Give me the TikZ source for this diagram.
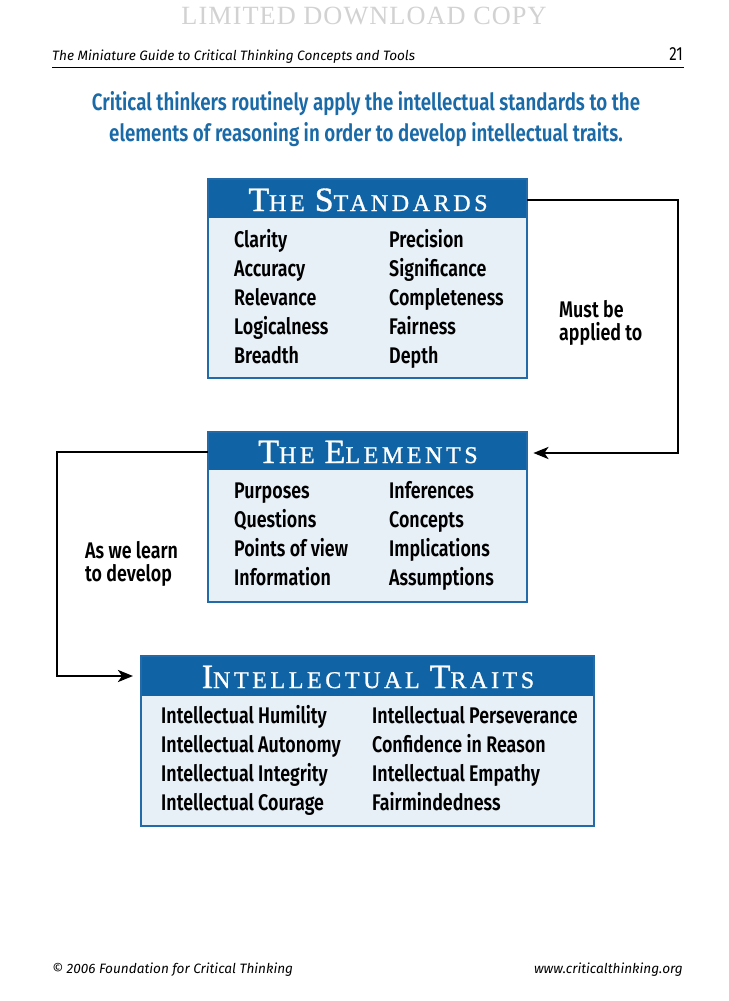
\documentclass[tikz,border=0pt]{standalone}
\usepackage{fontspec}
\setmainfont{Fira Sans}
\newfontfamily\cond{Fira Sans}[FakeStretch=0.79, BoldFont={Fira Sans SemiBold}]
\newfontfamily\plainsans{Fira Sans}
\newfontfamily\titlefont{Liberation Serif}[LetterSpace=15, FakeBold=1]
\newfontfamily\wmfont{Liberation Serif}[LetterSpace=4]
\usetikzlibrary{arrows.meta,calc}
\definecolor{bandblue}{RGB}{16,100,165}
\definecolor{edgeblue}{RGB}{34,106,168}
\definecolor{bodyfill}{RGB}{231,239,247}
\definecolor{subblue}{RGB}{27,106,168}
\newcommand\Tbig[1]{{\fontsize{34}{34}\selectfont #1}}
\newcommand\Tsm[1]{{\fontsize{24}{24}\selectfont #1}}
\newcommand\Tgap{\hspace*{10pt}}
\begin{document}
\begin{tikzpicture}[x=1pt,y=-1pt,
  item/.style={anchor=base west, inner sep=0pt, font=\cond\bfseries\fontsize{22.6}{22.6}\selectfont},
  lbl/.style={anchor=base west, inner sep=0pt, font=\cond\bfseries\fontsize{22.6}{22.6}\selectfont},
  hdr/.style={anchor=base, inner sep=0pt, text=white, font=\titlefont},
  boxbody/.style={rectangle, fill=bodyfill, inner sep=0pt, anchor=north west},
  conn/.style={line width=2.5pt, black},
  arr/.style={conn, -{Stealth[length=15pt,width=12pt,inset=4pt]}},
  small/.style={inner sep=0pt, font=\plainsans\itshape\fontsize{13.6}{13.6}\selectfont}
]
\useasboundingbox (0,0) rectangle (728,1001);
\fill[white] (0,0) rectangle (728,1001);

% watermark and page header
\node[anchor=base, inner sep=0pt, text=gray!35, font=\wmfont\fontsize{26.3}{26.3}\selectfont] (wm) at (364,24) {LIMITED DOWNLOAD COPY};
\node[small, anchor=base west] (guide) at (52,60) {The Miniature Guide to Critical Thinking Concepts and Tools};
\node[inner sep=0pt, anchor=base east, font=\cond\fontsize{19}{19}\selectfont] (pg) at (683,60) {21};
\draw[line width=1pt] (52,67) -- (684,67);

% subtitle
\node[anchor=base, inner sep=0pt, text=subblue, font=\cond\bfseries\fontsize{23.7}{23.7}\selectfont] (sub1) at (366,110) {Critical thinkers routinely apply the intellectual standards to the};
\node[anchor=base, inner sep=0pt, text=subblue, font=\cond\bfseries\fontsize{23.7}{23.7}\selectfont] (sub2) at (366,141) {elements of reasoning in order to develop intellectual traits.};

% Standards box
\node[boxbody, minimum width=319pt, minimum height=199pt] (std) at (208,179) {};
\fill[bandblue] (std.north west) rectangle ([yshift=-39pt]std.north east);
\draw[edgeblue, line width=2pt] (std.north west) rectangle (std.south east);
\node[hdr] (stdT) at (368,211) {\Tbig{T}\Tsm{HE}\Tgap\Tbig{S}\Tsm{TANDARDS}};
\node[item] (s1) at (234,247) {Clarity};
\node[item] (s2) at (234,276) {Accuracy};
\node[item] (s3) at (234,305) {Relevance};
\node[item] (s4) at (234,334) {Logicalness};
\node[item] (s5) at (234,363) {Breadth};
\node[item] (s6) at (389,247) {Precision};
\node[item] (s7) at (389,276) {Significance};
\node[item] (s8) at (389,305) {Completeness};
\node[item] (s9) at (389,334) {Fairness};
\node[item] (s10) at (389,363) {Depth};

% Elements box
\node[boxbody, minimum width=319pt, minimum height=170pt] (elm) at (208,432) {};
\fill[bandblue] (elm.north west) rectangle ([yshift=-38pt]elm.north east);
\draw[edgeblue, line width=2pt] (elm.north west) rectangle (elm.south east);
\node[hdr] (elmT) at (368,463) {\Tbig{T}\Tsm{HE}\Tgap\Tbig{E}\Tsm{LEMENTS}};
\node[item] (e1) at (234,498) {Purposes};
\node[item] (e2) at (234,527) {Questions};
\node[item] (e3) at (234,556) {Points of view};
\node[item] (e4) at (234,585) {Information};
\node[item] (e5) at (389,498) {Inferences};
\node[item] (e6) at (389,527) {Concepts};
\node[item] (e7) at (389,556) {Implications};
\node[item] (e8) at (389,585) {Assumptions};

% Traits box
\node[boxbody, minimum width=453pt, minimum height=170pt] (trt) at (141,656) {};
\fill[bandblue] (trt.north west) rectangle ([yshift=-40pt]trt.north east);
\draw[edgeblue, line width=2pt] (trt.north west) rectangle (trt.south east);
\node[hdr] (trtT) at (368,688) {\Tbig{I}\Tsm{NTELLECTUAL}\Tgap\Tbig{T}\Tsm{RAITS}};
\node[item] (t1) at (161,723) {Intellectual Humility};
\node[item] (t2) at (161,752) {Intellectual Autonomy};
\node[item] (t3) at (161,781) {Intellectual Integrity};
\node[item] (t4) at (161,810) {Intellectual Courage};
\node[item] (t5) at (372,723) {Intellectual Perseverance};
\node[item] (t6) at (372,752) {Confidence in Reason};
\node[item] (t7) at (372,781) {Intellectual Empathy};
\node[item] (t8) at (372,810) {Fairmindedness};

% connectors
\coordinate (r1) at (678,200);
\coordinate (r2) at (678,453);
\draw[arr] (std.east |- r1) -- (r1) -- (r2) -- ([xshift=6pt]elm.east |- r2);
\coordinate (l1) at (57,452);
\coordinate (l2) at (57,676);
\draw[arr] (elm.west |- l1) -- (l1) -- (l2) -- ([xshift=-8pt]trt.west |- l2);

\node[lbl] (must1) at (559,317) {Must be};
\node[lbl] (must2) at (559,340) {applied to};
\node[lbl] (learn1) at (85,558) {As we learn};
\node[lbl] (learn2) at (85,581) {to develop};

% footer
\node[small, anchor=base west] (copy) at (52,973) {© 2006 Foundation for Critical Thinking};
\node[small, anchor=base east] (url) at (683,973) {www.criticalthinking.org};
\end{tikzpicture}
\end{document}
